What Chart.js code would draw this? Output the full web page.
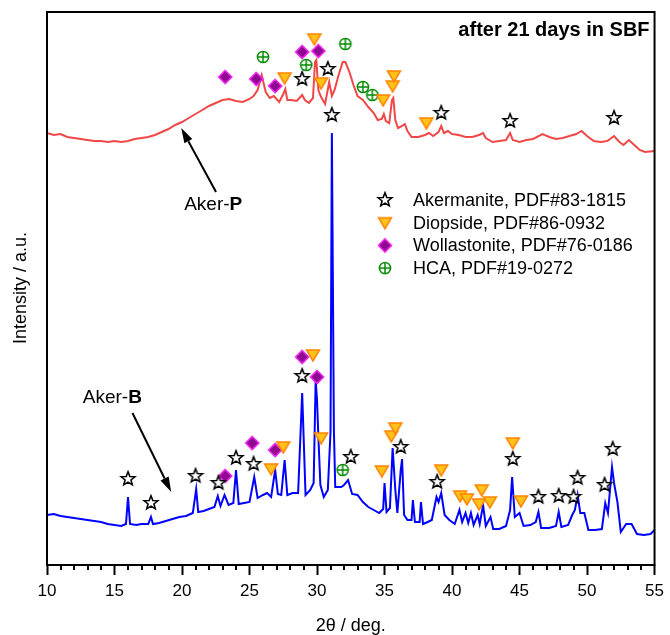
<!DOCTYPE html>
<html>
<head>
<meta charset="utf-8">
<script src="https://cdn.jsdelivr.net/npm/chart.js@4/dist/chart.umd.min.js"></script>
<style>
  html, body { margin: 0; padding: 0; background: #fff; }
  #wrap { width: 670px; height: 635px; }
</style>
</head>
<body>
<div id="wrap"><canvas id="xrd" width="670" height="635"></canvas></div>
<script>
// 2theta positions and intensities (arbitrary units)
const redTheta = [10.0,10.5,11.0,11.5,12.0,12.5,13.0,13.5,14.0,14.5,15.0,15.5,16.0,16.5,17.0,17.5,18.0,18.5,19.0,19.5,20.0,20.5,21.0,21.5,22.0,22.5,23.0,23.5,24.0,24.5,25.0,25.3,25.6,25.9,26.2,26.5,26.8,27.2,27.5,27.65,27.8,28.1,28.5,28.9,29.1,29.4,29.7,29.85,29.95,30.1,30.3,30.6,30.9,31.1,31.3,31.6,31.9,32.1,32.4,32.7,33.0,33.4,33.8,34.2,34.5,34.8,34.95,35.1,35.35,35.55,35.65,35.8,36.0,36.3,36.5,36.7,37.0,37.5,38.0,38.3,38.6,39.0,39.2,39.4,39.7,40.0,40.5,41.0,41.5,42.0,42.3,42.5,43.0,43.5,44.0,44.3,44.5,45.0,45.5,46.0,46.7,47.2,47.7,48.2,48.7,49.2,49.6,50.0,50.5,51.0,51.5,52.0,52.4,52.7,53.1,53.5,53.9,54.3,55.0];
const redIntensity = [432,430,431,428,427,426,425,424,424,423,424,423,424,426,427,428,430,433,436,440,443,447,451,455,459,462,465,466,464,463,466,469,475,490,473,467,469,463,471,476,465,465,464,470,465,462,467,503,505,475,468,461,483,469,475,490,503,503,493,480,469,465,458,452,445,446,451,444,442,465,467,445,437,439,441,434,428,428,430,432,429,433,439,432,434,431,430,428,428,430,432,427,423,424,425,432,425,423,425,426,431,428,426,427,429,431,434,429,424,423,424,429,423,420,425,420,415,413,414];

const blueTheta = [10.0,10.5,11.0,11.5,12.0,12.5,13.0,13.5,14.0,14.5,15.0,15.5,15.85,16.0,16.15,16.6,17.0,17.5,17.7,17.85,18.3,18.8,19.3,19.8,20.3,20.8,21.05,21.2,21.6,22.0,22.4,22.65,22.85,23.15,23.45,23.8,24.0,24.2,24.6,25.0,25.35,25.6,26.0,26.3,26.6,26.9,27.1,27.35,27.6,27.8,28.2,28.6,28.9,29.15,29.5,29.75,29.9,30.0,30.1,30.25,30.5,30.8,31.0,31.1,31.25,31.35,31.8,32.0,32.3,32.6,33.0,33.4,33.8,34.2,34.6,34.9,35.0,35.15,35.4,35.6,35.8,35.95,36.2,36.3,36.45,36.7,37.0,37.1,37.25,37.6,37.7,37.85,38.2,38.5,38.85,39.0,39.2,39.45,39.8,40.2,40.55,40.75,41.0,41.2,41.4,41.6,41.9,42.05,42.3,42.5,42.85,43.05,43.5,44.0,44.3,44.45,44.65,45.0,45.3,45.8,46.2,46.4,46.6,47.2,47.7,47.9,48.1,48.6,48.9,49.1,49.3,49.5,49.8,50.1,50.6,51.1,51.35,51.55,51.85,52.0,52.25,52.5,52.9,53.3,53.7,54.2,54.7,55.0];
const blueIntensity = [50,51,49,48,47,46,45,44,43,41,40,39,41,68,41,40,41,41,48,41,42,44,46,48,49,52,76,53,54,56,58,69,59,70,60,62,95,61,62,63,88,67,70,72,68,95,71,70,105,70,72,72,172,70,75,82,185,165,128,80,68,75,133,432,135,78,78,80,85,71,70,63,58,55,52,56,82,53,57,117,75,52,95,106,50,45,45,65,43,43,63,41,43,45,68,63,72,50,45,41,55,43,52,42,52,40,50,41,60,39,48,36,36,39,55,88,48,52,39,40,43,53,37,37,39,53,38,40,50,55,70,52,52,35,35,36,62,52,98,82,63,33,41,41,31,30,31,35];

// phase reflections: [2theta, height] for both patterns
const akermanite = [[28.9,486],[30.8,496],[31.1,450],[39.2,452],[44.3,444],[52.0,447],
  [16.0,86],[17.7,62],[21.0,89],[22.7,82],[24.0,107],[25.3,101],[28.9,189],[32.5,108],[36.2,118],
  [38.9,83],[44.5,106],[46.4,68],[47.9,69],[49.0,68],[49.3,87],[51.3,80],[51.9,116]];
const diopside = [[27.6,487],[29.8,526],[30.3,482],[34.9,465],[35.6,479],[35.7,489],[38.1,442],
  [26.6,96],[27.5,118],[29.7,210],[30.3,127],[34.8,94],[35.5,129],[35.8,137],[39.2,95],[40.6,69],
  [41.1,66],[42.0,61],[42.2,75],[42.8,63],[44.5,122],[45.1,64]];
const wollastonite = [[23.2,488],[25.5,486],[26.9,479],[28.9,513],[30.1,514],
  [23.2,89],[25.2,122],[26.9,115],[28.9,208],[30.0,188]];
const hca = [[26.0,508],[29.2,500],[32.1,521],[33.4,478],[34.1,470],[31.9,95]];

const xTicks = [10,15,20,25,30,35,40,45,50,55];
const legendLabels = ['Akermanite, PDF#83-1815','Diopside, PDF#86-0932','Wollastonite, PDF#76-0186','HCA, PDF#19-0272'];

const FONT = "'Liberation Sans', Arial, sans-serif";

// marker glyphs
function makeMarker(kind) {
  const c = document.createElement('canvas');
  c.width = 18; c.height = 18;
  const g = c.getContext('2d');
  g.translate(9, 9);
  g.lineJoin = 'miter';
  if (kind === 'star') {
    g.beginPath();
    for (let i = 0; i < 10; i++) {
      const r = i % 2 ? 3.1 : 7.2;
      const a = -Math.PI / 2 + i * Math.PI / 5;
      g.lineTo(r * Math.cos(a), r * Math.sin(a));
    }
    g.closePath();
    g.fillStyle = '#fff'; g.fill();
    g.strokeStyle = '#000'; g.lineWidth = 1.6; g.stroke();
  } else if (kind === 'tri') {
    g.beginPath();
    g.moveTo(-6.5, -5); g.lineTo(6.5, -5); g.lineTo(0, 6); g.closePath();
    g.fillStyle = '#FFC21A'; g.fill();
    g.strokeStyle = '#FF8400'; g.lineWidth = 1.5; g.stroke();
  } else if (kind === 'dia') {
    g.beginPath();
    g.moveTo(0, -6.5); g.lineTo(6.5, 0); g.lineTo(0, 6.5); g.lineTo(-6.5, 0); g.closePath();
    g.fillStyle = '#8E0A8E'; g.fill();
    g.strokeStyle = '#F020F0'; g.lineWidth = 1.6; g.stroke();
  } else {
    g.strokeStyle = '#008A00'; g.lineWidth = 1.5;
    g.beginPath(); g.arc(0, 0, 5.6, 0, Math.PI * 2); g.stroke();
    g.beginPath(); g.moveTo(-5.6, 0); g.lineTo(5.6, 0); g.moveTo(0, -5.6); g.lineTo(0, 5.6); g.stroke();
  }
  return c;
}
const markers = { star: makeMarker('star'), tri: makeMarker('tri'), dia: makeMarker('dia'), hca: makeMarker('hca') };

function toXY(xs, ys) { return xs.map((x, i) => ({ x: x, y: ys[i] })); }
function pairs(arr) { return arr.map(p => ({ x: p[0], y: p[1] })); }

function arrow(ctx, x1, y1, x2, y2) {
  const a = Math.atan2(y2 - y1, x2 - x1);
  const hl = 15, hw = 4.5;
  const bx = x2 - hl * Math.cos(a), by = y2 - hl * Math.sin(a);
  ctx.beginPath(); ctx.moveTo(x1, y1); ctx.lineTo(bx, by); ctx.stroke();
  ctx.beginPath();
  ctx.moveTo(x2, y2);
  ctx.lineTo(bx + hw * Math.sin(a), by - hw * Math.cos(a));
  ctx.lineTo(bx - hw * Math.sin(a), by + hw * Math.cos(a));
  ctx.closePath(); ctx.fill();
}

const decor = {
  id: 'decor',
  afterDraw(chart) {
    const ctx = chart.ctx, ca = chart.chartArea;
    const xs = chart.scales.x, ys = chart.scales.y;
    ctx.save();
    // frame
    ctx.strokeStyle = '#000'; ctx.lineWidth = 2;
    ctx.strokeRect(ca.left, ca.top, ca.right - ca.left, ca.bottom - ca.top);
    // minor ticks
    for (let v = 10; v <= 55; v++) {
      if (v % 5 === 0) continue;
      const px = Math.round(xs.getPixelForValue(v));
      ctx.beginPath(); ctx.moveTo(px, ca.bottom); ctx.lineTo(px, ca.bottom + 5); ctx.stroke();
    }
    ctx.fillStyle = '#000';
    // axis titles
    ctx.font = '18px ' + FONT;
    ctx.textAlign = 'center'; ctx.textBaseline = 'alphabetic';
    ctx.fillText('2\u03b8 / deg.', (ca.left + ca.right) / 2, 631);
    ctx.save();
    ctx.translate(26, 288); ctx.rotate(-Math.PI / 2);
    ctx.font = '18px ' + FONT;
    ctx.fillText('Intensity / a.u.', 0, 0);
    ctx.restore();
    // title
    ctx.font = 'bold 20px ' + FONT;
    ctx.textAlign = 'right';
    ctx.fillText('after 21 days in SBF', ca.right - 5, ca.top + 24);
    // sample labels
    ctx.textAlign = 'left';
    function label(x, y, a, b) {
      ctx.font = '19px ' + FONT;
      ctx.fillText(a, x, y);
      const w = ctx.measureText(a).width;
      ctx.font = 'bold 19px ' + FONT;
      ctx.fillText(b, x + w, y);
    }
    label(xs.getPixelForValue(20.16), ys.getPixelForValue(355), 'Aker-', 'P');
    label(xs.getPixelForValue(12.65), ys.getPixelForValue(162), 'Aker-', 'B');
    // arrows
    ctx.lineWidth = 2;
    arrow(ctx, xs.getPixelForValue(22.52), ys.getPixelForValue(373), xs.getPixelForValue(19.94), ys.getPixelForValue(437));
    arrow(ctx, xs.getPixelForValue(16.33), ys.getPixelForValue(152), xs.getPixelForValue(19.2), ys.getPixelForValue(73));
    // legend
    const icons = [markers.star, markers.tri, markers.dia, markers.hca];
    const lx = ca.left + 338, ly = ca.top + 188;
    ctx.font = '18px ' + FONT;
    ctx.textBaseline = 'middle';
    legendLabels.forEach((t, i) => {
      const y = ly + i * 22.7;
      ctx.drawImage(icons[i], lx - 9, y - 9);
      ctx.fillText(t, lx + 28, y + 1);
    });
    ctx.restore();
  }
};

const markerSet = (data, img) => ({
  data: pairs(data), pointStyle: img, pointRadius: 7, showLine: false, order: 0
});

new Chart(document.getElementById('xrd'), {
  type: 'scatter',
  data: {
    datasets: [
      markerSet(akermanite, markers.star),
      markerSet(diopside, markers.tri),
      markerSet(wollastonite, markers.dia),
      markerSet(hca, markers.hca),
      { data: toXY(redTheta, redIntensity), showLine: true, pointRadius: 0, borderColor: '#F04848', borderWidth: 2, order: 1 },
      { data: toXY(blueTheta, blueIntensity), showLine: true, pointRadius: 0, borderColor: '#0000FF', borderWidth: 2, order: 1 }
    ]
  },
  options: {
    responsive: false,
    animation: false,
    devicePixelRatio: 1,
    layout: { padding: { top: 12, right: 12, left: 0, bottom: 0 } },
    plugins: { legend: { display: false }, tooltip: { enabled: false } },
    scales: {
      x: {
        type: 'linear', min: 10, max: 55,
        afterFit: s => { s.height = 70; },
        afterBuildTicks: s => { s.ticks = xTicks.map(v => ({ value: v })); },
        ticks: { font: { size: 17, family: FONT }, color: '#000', padding: 6, maxRotation: 0 },
        grid: { drawOnChartArea: false, tickLength: 10, tickWidth: 2, tickColor: '#000' },
        border: { display: false }
      },
      y: {
        min: 0, max: 553,
        afterFit: s => { s.width = 47; },
        ticks: { display: false },
        grid: { display: false },
        border: { display: false }
      }
    }
  },
  plugins: [decor]
});
</script>
</body>
</html>
